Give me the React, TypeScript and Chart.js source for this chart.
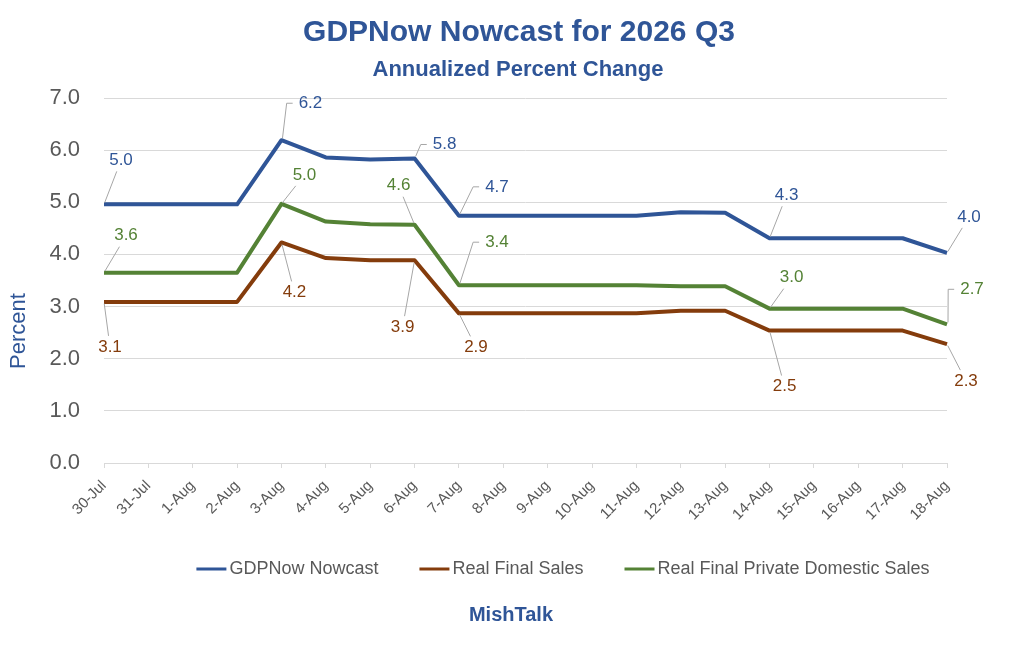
import React, { useEffect, useRef } from "react";
import { Chart, registerables } from "chart.js";

Chart.register(...registerables);

const categories = [
  "30-Jul", "31-Jul", "1-Aug", "2-Aug", "3-Aug", "4-Aug", "5-Aug", "6-Aug", "7-Aug", "8-Aug",
  "9-Aug", "10-Aug", "11-Aug", "12-Aug", "13-Aug", "14-Aug", "15-Aug", "16-Aug", "17-Aug", "18-Aug",
];

const gdpNow = [
  4.96, 4.96, 4.96, 4.96, 6.19, 5.86, 5.82, 5.84, 4.74, 4.74,
  4.74, 4.74, 4.74, 4.81, 4.8, 4.31, 4.31, 4.31, 4.31, 4.03,
];
const realFinalSales = [
  3.09, 3.09, 3.09, 3.09, 4.23, 3.93, 3.89, 3.89, 2.87, 2.87,
  2.87, 2.87, 2.87, 2.92, 2.92, 2.54, 2.54, 2.54, 2.54, 2.28,
];
const privateDomestic = [
  3.65, 3.65, 3.65, 3.65, 4.97, 4.63, 4.58, 4.57, 3.41, 3.41,
  3.41, 3.41, 3.41, 3.39, 3.39, 2.96, 2.96, 2.96, 2.96, 2.66,
];

const seriesNames = ["GDPNow Nowcast", "Real Final Sales", "Real Final Private Domestic Sales"];
const yTicks = [0, 1, 2, 3, 4, 5, 6, 7];

const BLUE = "#2F5597";
const BROWN = "#843C0C";
const GREEN = "#548235";
const GRAY = "#595959";
const GRID = "#D9D9D9";
const FONT = "'Liberation Sans', Arial, sans-serif";

// where each value label sits, relative to its point (px)
type Callout = { i: number; dx: number; dy: number; elbow?: boolean };

const gdpCallouts: Callout[] = [
  { i: 0, dx: 17, dy: -44 },
  { i: 4, dx: 29, dy: -37, elbow: true },
  { i: 7, dx: 30, dy: -14, elbow: true },
  { i: 8, dx: 38, dy: -29, elbow: true },
  { i: 15, dx: 17, dy: -43 },
  { i: 19, dx: 22, dy: -36 },
];
const salesCallouts: Callout[] = [
  { i: 0, dx: 6, dy: 45 },
  { i: 4, dx: 13, dy: 50 },
  { i: 7, dx: -12, dy: 67 },
  { i: 8, dx: 17, dy: 34 },
  { i: 15, dx: 15, dy: 56 },
  { i: 19, dx: 19, dy: 37 },
];
const domesticCallouts: Callout[] = [
  { i: 0, dx: 22, dy: -37 },
  { i: 4, dx: 23, dy: -29 },
  { i: 7, dx: -16, dy: -39 },
  { i: 8, dx: 38, dy: -43, elbow: true },
  { i: 15, dx: 22, dy: -31 },
  { i: 19, dx: 25, dy: -35, elbow: true },
];

const calloutsByDataset = [gdpCallouts, salesCallouts, domesticCallouts];

export default function App() {
  const canvasRef = useRef<HTMLCanvasElement | null>(null);

  useEffect(() => {
    document.body.style.margin = "0";
    if (!canvasRef.current) return;

    const chart = new Chart(canvasRef.current, {
      type: "line",
      data: {
        labels: categories,
        datasets: [
          { label: seriesNames[0], data: gdpNow, borderColor: BLUE, backgroundColor: BLUE },
          { label: seriesNames[1], data: realFinalSales, borderColor: BROWN, backgroundColor: BROWN },
          { label: seriesNames[2], data: privateDomestic, borderColor: GREEN, backgroundColor: GREEN },
        ].map((d) => ({ ...d, borderWidth: 4, pointRadius: 0, tension: 0, borderJoinStyle: "round" as const })),
      },
      options: {
        animation: false,
        responsive: true,
        maintainAspectRatio: false,
        layout: { padding: { left: 0, right: 77, top: 98, bottom: 142 } },
        scales: {
          x: {
            offset: false,
            afterFit: (s) => {
              s.height = 60;
            },
            grid: { display: true, drawOnChartArea: false, drawTicks: true, tickLength: 5, color: GRID },
            border: { display: true, color: GRID, width: 1 },
            ticks: {
              autoSkip: false,
              maxRotation: 45,
              minRotation: 45,
              color: GRAY,
              font: { family: FONT, size: 15 },
              padding: 9,
            },
          },
          y: {
            min: yTicks[0],
            max: yTicks[yTicks.length - 1],
            afterFit: (s) => {
              s.width = 104;
            },
            grid: { color: GRID, drawTicks: false },
            border: { display: false },
            ticks: {
              stepSize: 1,
              color: GRAY,
              padding: 24,
              font: { family: FONT, size: 22 },
              callback: (v) => Number(v).toFixed(1),
            },
          },
        },
        plugins: {
          title: { display: false },
          legend: { display: false },
          tooltip: { enabled: false },
        },
      },
      plugins: [
        {
          id: "callouts",
          afterDatasetsDraw: (c) => {
            const ctx = c.ctx;
            ctx.save();
            ctx.font = `17px ${FONT}`;
            ctx.textAlign = "center";
            ctx.textBaseline = "middle";
            calloutsByDataset.forEach((list, di) => {
              const meta = c.getDatasetMeta(di);
              const values = c.data.datasets[di].data as number[];
              const color = c.data.datasets[di].borderColor as string;
              list.forEach(({ i, dx, dy, elbow }) => {
                const pt = meta.data[i];
                const text = values[i].toFixed(1);
                const cx = pt.x + dx;
                const cy = pt.y + dy;
                const hw = ctx.measureText(text).width / 2 + 2;
                const hh = 8;
                ctx.strokeStyle = "#A6A6A6";
                ctx.lineWidth = 1;
                ctx.beginPath();
                if (elbow) {
                  ctx.moveTo(pt.x + 1, pt.y + (dy < 0 ? -2 : 2));
                  ctx.lineTo(cx - hw - 10, cy);
                  ctx.lineTo(cx - hw - 4, cy);
                } else {
                  const vx = pt.x - cx;
                  const vy = pt.y - cy;
                  const t = Math.min(
                    vx === 0 ? Infinity : (hw + 3) / Math.abs(vx),
                    vy === 0 ? Infinity : (hh + 3) / Math.abs(vy)
                  );
                  ctx.moveTo(pt.x - vx * 0.04, pt.y - vy * 0.04);
                  ctx.lineTo(cx + vx * t, cy + vy * t);
                }
                ctx.stroke();
                ctx.fillStyle = color;
                ctx.fillText(text, cx, cy);
              });
            });
            ctx.restore();
          },
        },
        {
          id: "frameText",
          afterDraw: (c) => {
            const ctx = c.ctx;
            ctx.save();
            ctx.textBaseline = "middle";
            ctx.textAlign = "center";
            ctx.fillStyle = BLUE;
            ctx.font = `bold 30px ${FONT}`;
            ctx.fillText("GDPNow Nowcast for 2026 Q3", 519, 33);
            ctx.font = `bold 22px ${FONT}`;
            ctx.fillText("Annualized Percent Change", 518, 70);
            ctx.font = `bold 20px ${FONT}`;
            ctx.fillText("MishTalk", 511, 615);

            // y axis title
            ctx.save();
            ctx.translate(19, 331);
            ctx.rotate(-Math.PI / 2);
            ctx.font = `22px ${FONT}`;
            ctx.fillText("Percent", 0, 0);
            ctx.restore();

            // legend
            ctx.font = `18px ${FONT}`;
            ctx.textAlign = "left";
            const widths = c.data.datasets.map((d) => ctx.measureText(d.label as string).width);
            const total = widths.reduce((a, w) => a + w + 33, 0) + 41 * (widths.length - 1);
            let x = 563 - total / 2;
            const y = 569;
            c.data.datasets.forEach((d, k) => {
              ctx.fillStyle = d.borderColor as string;
              ctx.fillRect(x, y - 1.5, 30, 3);
              ctx.fillStyle = GRAY;
              ctx.fillText(d.label as string, x + 33, y);
              x += 33 + widths[k] + 41;
            });
            ctx.restore();
          },
        },
      ],
    });

    return () => chart.destroy();
  }, []);

  return (
    <div style={{ width: 1024, height: 665, position: "relative", background: "#fff" }}>
      <canvas ref={canvasRef} />
    </div>
  );
}
